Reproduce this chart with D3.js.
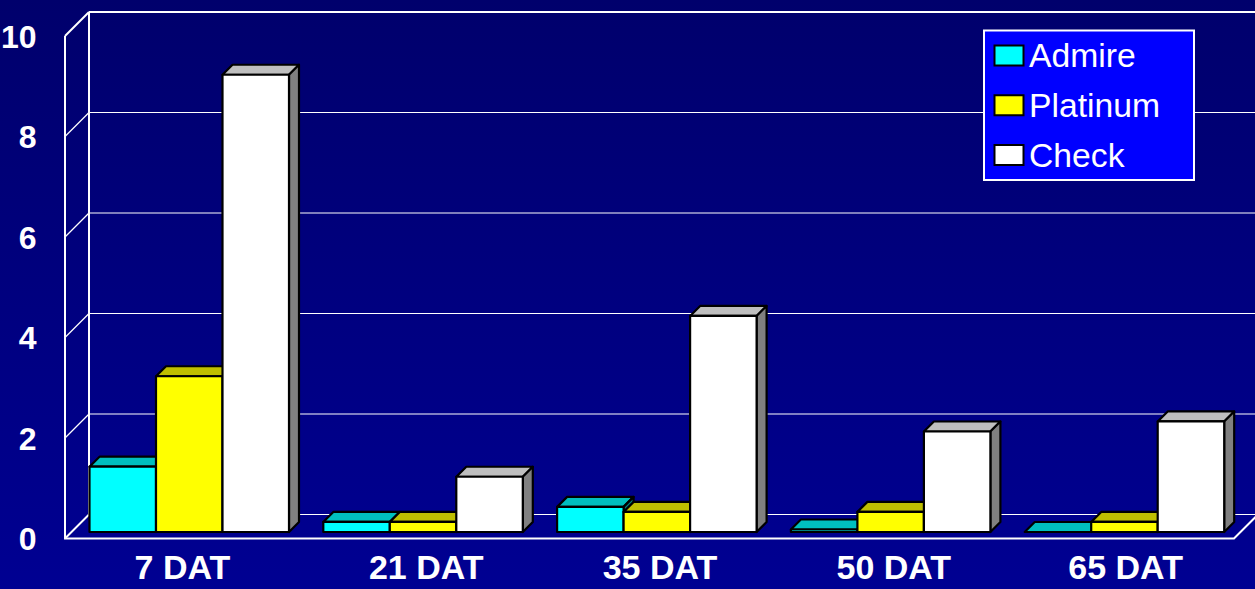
<!DOCTYPE html>
<html><head><meta charset="utf-8">
<script src="https://cdn.jsdelivr.net/npm/d3@7"></script>
<style>html,body{margin:0;padding:0;background:#000080;overflow:hidden}svg{display:block}text{font-family:"Liberation Sans",Arial,sans-serif;fill:#fff}</style>
</head><body><svg id="c" width="1255" height="589"></svg>
<script>
const categories = ["7 DAT","21 DAT","35 DAT","50 DAT","65 DAT"];
const seriesNames = ["Admire","Platinum","Check"];
const admire = [1.3,0.2,0.5,0.05,0];
const platinum = [3.1,0.2,0.4,0.4,0.2];
const check = [9.1,1.1,4.3,2.0,2.2];
const yTicks = [0,2,4,6,8,10];
const faceColors = ["#00ffff","#ffff00","#ffffff"];
const topColors = ["#00bfbf","#bfbf00","#bfbfbf"];
const sideColors = ["#008080","#808000","#808080"];

const svg = d3.select("#c");
const defs = svg.append("defs");
const grad = defs.append("linearGradient").attr("id","bg").attr("x1",0).attr("y1",0).attr("x2",0).attr("y2",1);
grad.append("stop").attr("offset","0%").attr("stop-color","#00006c");
grad.append("stop").attr("offset","100%").attr("stop-color","#000092");
svg.append("rect").attr("width",1255).attr("height",589).attr("fill","url(#bg)");

const depth = 24, barDepth = 10, baseShift = 6.5;
const y = d3.scaleLinear().domain([0,10]).range([538.5,36]);
const x0 = d3.scaleBand().domain(categories).range([65.5,1234.5]);
const x1 = d3.scaleBand().domain(seriesNames).range([24,24+199.5]);
const rightBack = 1255;
// the category labels sit slightly off the band centres in the reference
const labelNudge = [0,10,10,10,8];

const axes = svg.append("g").attr("fill","none").attr("stroke","#fff");
yTicks.forEach(t=>{
  const yy=y(t);
  axes.append("path").attr("d",`M${65},${yy}L${65+depth},${yy-depth}`).attr("stroke-width",(t===10||t===0)?2:1.2);
  axes.append("path").attr("d",`M${65+depth},${yy-depth}L${rightBack+4},${yy-depth}`).attr("stroke-width",t===10?2:1);
});
axes.append("path").attr("d",`M${65},${y(10)}L65,${y(0)}L1234,${y(0)}L${1234+depth},${y(0)-depth}`).attr("stroke-width",2);
axes.append("path").attr("d",`M${65+depth},${y(10)-depth}L${65+depth},${y(0)-depth}`).attr("stroke-width",2);

const series = [admire,platinum,check];
const gBars = svg.append("g").attr("stroke","#000").attr("stroke-width",2.2).attr("stroke-linejoin","round");
categories.forEach((c,ci)=>{
  seriesNames.forEach((s,si)=>{
    const v = series[si][ci];
    const l = x0(c)+x1(s), r = l+x1.bandwidth();
    const t = y(v)-baseShift, b = y(0)-baseShift, d = barDepth;
    const g = gBars.append("g");
    g.append("path").attr("fill",topColors[si]).attr("d",`M${l},${t}L${l+d},${t-d}L${r+d},${t-d}L${r},${t}Z`);
    g.append("path").attr("fill",sideColors[si]).attr("d",`M${r},${t}L${r+d},${t-d}L${r+d},${b-d}L${r},${b}Z`);
    g.append("rect").attr("x",l).attr("y",t).attr("width",r-l).attr("height",b-t).attr("fill",faceColors[si]);
  });
});

const tickG = svg.append("g").attr("font-weight","bold");
yTicks.forEach(t=>{
  tickG.append("text").attr("x",36.5).attr("y",y(t)+11.5).attr("font-size",32).attr("text-anchor","end").text(t);
});
categories.forEach((c,i)=>{
  tickG.append("text").attr("x",x0(c)+x0.bandwidth()/2+labelNudge[i]).attr("y",579).attr("font-size",34).attr("text-anchor","middle").text(c);
});

const leg = svg.append("g");
leg.append("rect").attr("x",984).attr("y",30.5).attr("width",210).attr("height",149.5)
  .attr("fill","#0000ff").attr("stroke","#fff").attr("stroke-width",2);
const legY = d3.scalePoint().domain(seriesNames).range([55.5,155]);
seriesNames.forEach((s,i)=>{
  leg.append("rect").attr("x",994.5).attr("y",legY(s)-10).attr("width",29).attr("height",20)
    .attr("fill",faceColors[i]).attr("stroke","#000").attr("stroke-width",2);
  leg.append("text").attr("x",1029).attr("y",legY(s)+11.5).attr("font-size",33.7).text(s);
});
</script></body></html>
